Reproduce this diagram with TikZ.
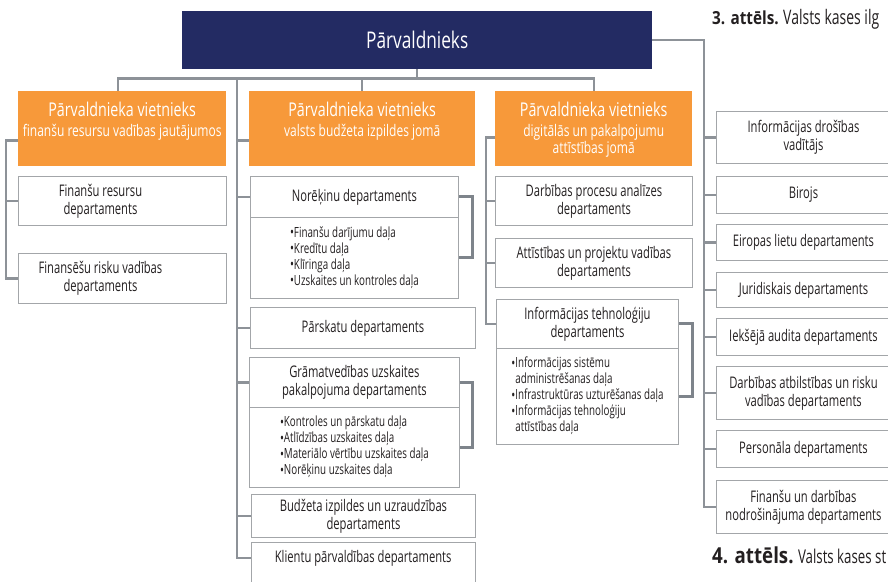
\documentclass[tikz,border=0pt]{standalone}
\usepackage{fontspec}
\setmainfont{Open Sans}[FakeStretch=0.75]
\newfontfamily\condf{Open Sans}[FakeStretch=0.70]
\newfontfamily\capf{Open Sans}[FakeStretch=0.85]
\usetikzlibrary{calc}
\definecolor{navy}{HTML}{232B63}
\definecolor{orng}{HTML}{F7993A}
\definecolor{conncol}{HTML}{8D9298}
\definecolor{brkcol}{HTML}{7E848B}
\definecolor{bord}{HTML}{A3A6A9}
\definecolor{txt}{HTML}{231F20}
\newcommand{\mybul}{{\fontsize{15}{15}\selectfont\raisebox{-0.05ex}{•}}\hspace{3pt}}
\tikzset{
  topbox/.style={fill=navy, text=white, inner sep=0pt, anchor=north west, font=\fontsize{23}{26}\selectfont},
  obox/.style={fill=orng, inner sep=0pt, anchor=north west},
  otext/.style={text=white, align=center, inner sep=0pt, anchor=north, font=\fontsize{16}{19}\selectfont},
  wbox/.style={draw=bord, line width=0.9pt, fill=white, text=txt, align=center, inner sep=0pt, anchor=north west, font=\condf\fontsize{16}{18}\selectfont},
  wtext/.style={text=txt, align=center, inner sep=0pt, font=\condf\fontsize{16}{18}\selectfont},
  bbox/.style={draw=bord, line width=0.9pt, fill=white, text=txt, inner sep=0pt, anchor=north west, font=\condf\fontsize{14}{16}\selectfont},
  conn/.style={draw=conncol, line width=2.2pt},
  brk/.style={draw=brkcol, line width=3pt},
  bline/.style={draw=bord, line width=0.9pt},
  captext/.style={text=txt, inner sep=0pt, anchor=base west}
}
\begin{document}
\begin{tikzpicture}[x=1pt,y=-1pt]
\useasboundingbox[fill=white] (0,0) rectangle (888,581);

\node[topbox, minimum width=470pt, minimum height=58pt] (top) at (182,11) {Pārvaldnieks};
\node[obox, minimum width=208pt, minimum height=75pt] (o1) at (18,91) {};
\node[obox, minimum width=226pt, minimum height=75pt] (o2) at (249,91) {};
\node[obox, minimum width=197pt, minimum height=75pt] (o3) at (495,91) {};

\node[otext] (o1t) at ($(o1.north)+(0,11)$) {{\fontsize{19}{22}\selectfont Pārvaldnieka vietnieks}\\[1pt]finanšu resursu vadības jautājumos};
\node[otext] (o2t) at ($(o2.north)+(0,11)$) {{\fontsize{19}{22}\selectfont Pārvaldnieka vietnieks}\\[1pt]valsts budžeta izpildes jomā};
\node[otext] (o3t) at ($(o3.north)+(0,11)$) {{\fontsize{19}{22}\selectfont Pārvaldnieka vietnieks}\\[1pt]digitālās un pakalpojumu\\[-2pt]attīstības jomā};

% left column
\node[wbox, minimum width=208pt, minimum height=49pt] (L1) at (18,176) {};
\node[wtext] (L1t) at ($(L1.center)+(-22,0)$) {Finanšu resursu\\departaments};
\node[wbox, minimum width=208pt, minimum height=50pt] (L2) at (18,253) {};
\node[wtext] (L2t) at ($(L2.center)+(-22,0)$) {Finansēšu risku vadības\\departaments};

% middle column
\node[wbox, minimum width=208pt, minimum height=41pt] (n1h) at (250,176) {Norēķinu departaments};
\node[bbox, minimum width=208pt, minimum height=81pt] (n1b) at (250,217) {\begin{tabular}{@{}l@{}l@{}}\mybul&Finanšu darījumu daļa\\ \mybul&Kredītu daļa\\ \mybul&Klīringa daļa\\ \mybul&Uzskaites un kontroles daļa\end{tabular}};
\node[wbox, minimum width=225pt, minimum height=41pt] (n2) at (250,307) {Pārskatu departaments};
\node[wbox, minimum width=210pt, minimum height=50pt] (n3h) at (249,357) {Grāmatvedības uzskaites\\pakalpojuma departaments};
\node[bbox, minimum width=210pt, minimum height=80pt] (n3b) at (249,407) {\begin{tabular}{@{}l@{}l@{}}\mybul&Kontroles un pārskatu daļa\\ \mybul&Atlīdzības uzskaites daļa\\ \mybul&Materiālo vērtību uzskaites daļa\\ \mybul&Norēķinu uzskaites daļa\end{tabular}};
\node[wbox, minimum width=224pt, minimum height=43pt] (n4) at (251,494) {Budžeta izpildes un uzraudzības\\departaments};
\node[wtext, minimum width=224pt, minimum height=32pt, anchor=north west] (n5) at (251,542) {Klientu pārvaldības departaments};
\draw[bline] ([yshift=-20pt]n5.south west) |- (n5.north east) -- ([yshift=-20pt]n5.south east);

% third column
\node[wbox, minimum width=197pt, minimum height=49pt] (r1) at (495,176) {Darbības procesu analīzes\\departaments};
\node[wbox, minimum width=197pt, minimum height=49pt] (r2) at (495,238) {Attīstības un projektu vadības\\departaments};
\node[wbox, minimum width=182pt, minimum height=49pt] (r3h) at (496,299) {Informācijas tehnoloģiju\\departaments};
\node[bbox, minimum width=182pt, minimum height=96pt] (r3b) at (496,348) {\begin{tabular}{@{}l@{}l@{}}\mybul&Informācijas sistēmu\\ &administrēšanas daļa\\ \mybul&Infrastruktūras uzturēšanas daļa\\ \mybul&Informācijas tehnoloģiju\\ &attīstības daļa\end{tabular}};

% far right column
\node[wbox, minimum width=174pt, minimum height=52pt] (f1) at (716,111) {Informācijas drošības\\vadītājs};
\node[wbox, minimum width=174pt, minimum height=37pt] (f2) at (716,176) {Birojs};
\node[wbox, minimum width=174pt, minimum height=36pt] (f3) at (716,224) {Eiropas lietu departaments};
\node[wbox, minimum width=174pt, minimum height=35pt] (f4) at (716,272) {Juridiskais departaments};
\node[wbox, minimum width=174pt, minimum height=37pt] (f5) at (716,318) {Iekšējā audita departaments};
\node[wbox, minimum width=174pt, minimum height=53pt] (f6) at (716,366) {Darbības atbilstības un risku\\vadības departaments};
\node[wbox, minimum width=174pt, minimum height=37pt] (f7) at (716,430) {Personāla departaments};
\node[wbox, minimum width=174pt, minimum height=53pt] (f8) at (716,480) {Finanšu un darbības\\nodrošinājuma departaments};

% captions
\node[captext, font=\capf\bfseries\fontsize{18}{21}\selectfont] (cap3b) at (712,24) {3. attēls.};
\node[captext, font=\condf\fontsize{20}{23}\selectfont] (cap3r) at ([xshift=4pt]cap3b.base east) {Valsts kases ilg};
\node[captext, font=\capf\bfseries\fontsize{22}{26}\selectfont] (cap4b) at (712,563) {4. attēls.};
\node[captext, font=\condf\fontsize{19}{23}\selectfont] (cap4r) at ([xshift=4pt]cap4b.base east) {Valsts kases st};

% connectors
\draw[conn] (top.south) -- ++(0,9) coordinate (busc);
\draw[conn] (busc) -| ([xshift=-4pt]o1.north);
\draw[conn] (busc) -| (o2.north);
\draw[conn] (busc) -| (o3.north);
\coordinate (sp2top) at (237,78);
\draw[conn] (sp2top) |- (n5.west);
\coordinate (o2a) at ($(o2.south west)+(0,-26)$);
\draw[conn] (sp2top |- o2a) -- (o2a);
\draw[conn] (sp2top |- n1h.west) -- (n1h.west);
\draw[conn] (sp2top |- n2.west) -- (n2.west);
\draw[conn] (sp2top |- n3h.west) -- (n3h.west);
\draw[conn] (sp2top |- n4.west) -- (n4.west);

\coordinate (o1a) at ($(o1.south west)+(0,-26)$);
\draw[conn] (o1a) -| ([xshift=-12pt]L2.west) -- (L2.west);
\draw[conn] ([xshift=-12pt]L1.west) -- (L1.west);

\coordinate (o3a) at ($(o3.south west)+(0,-29)$);
\draw[conn] (o3a) -| ([xshift=-10pt]r3h.west) -- (r3h.west);
\draw[conn] ([xshift=-9pt]r1.west) -- (r1.west);
\draw[conn] ([xshift=-9pt]r2.west) -- (r2.west);

\draw[conn] (top.east) -| ([xshift=-12pt]f8.west) -- (f8.west);
\foreach \f in {f1,f2,f3,f4,f5,f6,f7}{
  \draw[conn] ([xshift=-12pt]\f.west) -- (\f.west);
}

\draw[brk] (n1h.east) -- ++(14,0) |- (n1b.east);
\draw[brk] (n3h.east) -- ++(13,0) |- (n3b.east);
\draw[brk] (r3h.east) -- ++(14,0) |- (r3b.east);
\end{tikzpicture}
\end{document}
